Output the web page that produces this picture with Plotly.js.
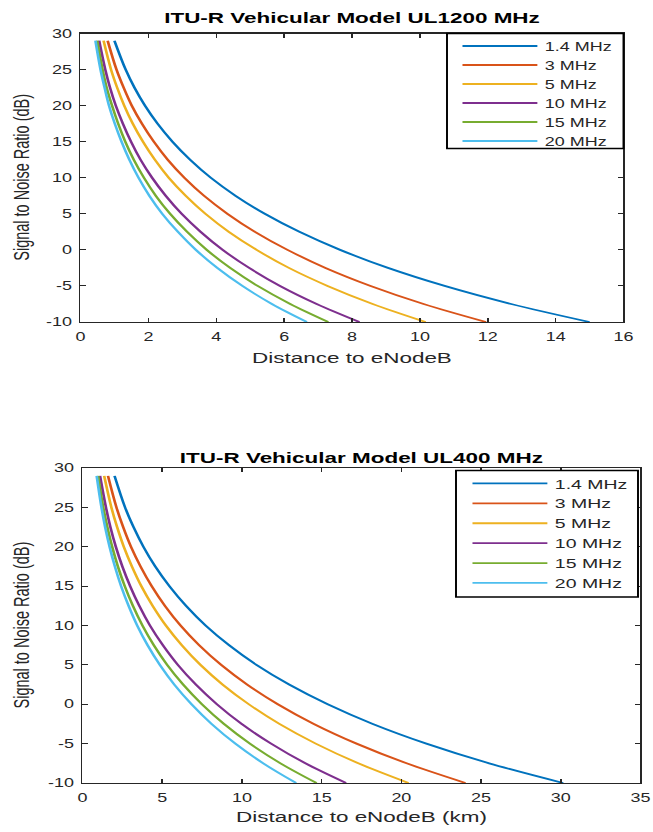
<!DOCTYPE html>
<html>
<head>
<meta charset="utf-8">
<script src="https://cdn.plot.ly/plotly-3.0.1.min.js"></script>
<style>
  html, body { margin: 0; padding: 0; background: #ffffff; overflow: hidden; }
  #chart { width: 436px; height: 832px; transform: scaleX(1.4977); transform-origin: 0 0; }
</style>
</head>
<body>
<div id="chart"></div>
<script>
// ---- data ----
const seriesNames = ["1.4 MHz", "3 MHz", "5 MHz", "10 MHz", "15 MHz", "20 MHz"];
const seriesColors = ["#0072BD", "#D95319", "#EDB120", "#7E2F8E", "#77AC30", "#4DBEEE"];

// SNR samples (dB), shared by all curves
const snr = [29, 25, 22.5, 20, 17.5, 15, 12.5, 10, 7.5, 5, 2.5, 0, -2.5, -5, -7.5, -10];

// ITU-R Vehicular Model UL 1200 MHz : distance to eNodeB
const d1200_1p4 = [1.00, 1.33, 1.59, 1.90, 2.27, 2.71, 3.23, 3.84, 4.57, 5.43, 6.45, 7.65, 9.06, 10.73, 12.69, 15.00];
const d1200_3   = [0.80, 1.06, 1.27, 1.51, 1.81, 2.16, 2.57, 3.06, 3.64, 4.33, 5.14, 6.10, 7.22, 8.55, 10.11, 11.95];
const d1200_5   = [0.68, 0.90, 1.08, 1.29, 1.54, 1.84, 2.19, 2.60, 3.10, 3.68, 4.37, 5.19, 6.14, 7.28, 8.61, 10.17];
const d1200_10  = [0.55, 0.73, 0.87, 1.04, 1.25, 1.49, 1.77, 2.11, 2.51, 2.98, 3.54, 4.19, 4.97, 5.88, 6.96, 8.22];
const d1200_15  = [0.49, 0.65, 0.77, 0.93, 1.11, 1.32, 1.57, 1.87, 2.22, 2.64, 3.14, 3.72, 4.41, 5.22, 6.18, 7.30];
const d1200_20  = [0.44, 0.59, 0.71, 0.84, 1.01, 1.21, 1.44, 1.71, 2.03, 2.41, 2.87, 3.40, 4.03, 4.77, 5.64, 6.67];

// ITU-R Vehicular Model UL 400 MHz : distance to eNodeB (km)
const d400_1p4 = [2.01, 2.67, 3.20, 3.82, 4.56, 5.45, 6.49, 7.72, 9.19, 10.91, 12.96, 15.38, 18.21, 21.57, 25.51, 30.15];
const d400_3   = [1.60, 2.13, 2.55, 3.04, 3.64, 4.34, 5.17, 6.15, 7.32, 8.70, 10.33, 12.25, 14.51, 17.19, 20.33, 24.02];
const d400_5   = [1.36, 1.81, 2.17, 2.59, 3.10, 3.69, 4.40, 5.23, 6.23, 7.40, 8.79, 10.43, 12.35, 14.63, 17.30, 20.45];
const d400_10  = [1.10, 1.47, 1.75, 2.09, 2.50, 2.99, 3.56, 4.23, 5.04, 5.98, 7.11, 8.43, 9.98, 11.83, 13.98, 16.53];
const d400_15  = [0.98, 1.30, 1.56, 1.86, 2.22, 2.65, 3.16, 3.76, 4.47, 5.31, 6.31, 7.49, 8.87, 10.50, 12.42, 14.68];
const d400_20  = [0.89, 1.19, 1.42, 1.70, 2.03, 2.42, 2.89, 3.43, 4.08, 4.85, 5.76, 6.84, 8.10, 9.59, 11.34, 13.40];

// tick labels
const yTickVals = [-10, -5, 0, 5, 10, 15, 20, 25, 30];
const yTickText = ["-10", "-5", "0", "5", "10", "15", "20", "25", "30"];
const x1TickVals = [0, 2, 4, 6, 8, 10, 12, 14, 16];
const x2TickVals = [0, 5, 10, 15, 20, 25, 30, 35];

const titleTop = "ITU-R Vehicular Model UL1200 MHz";
const titleBottom = "ITU-R Vehicular Model UL400 MHz";
const xTitleTop = "Distance to eNodeB";
const xTitleBottom = "Distance to eNodeB (km)";
const yTitle = "Signal to Noise Ratio (dB)";

// ---- traces ----
const topSeries = [d1200_1p4, d1200_3, d1200_5, d1200_10, d1200_15, d1200_20];
const bottomSeries = [d400_1p4, d400_3, d400_5, d400_10, d400_15, d400_20];
const FONT = "Arial, 'Liberation Sans', Helvetica, sans-serif";
const traces = [];
topSeries.forEach((xs, i) => traces.push({
  x: xs, y: snr, type: "scatter", mode: "lines", name: seriesNames[i],
  line: { color: seriesColors[i], width: 1.8, shape: "spline", smoothing: 1 },
  xaxis: "x", yaxis: "y", legend: "legend"
}));
bottomSeries.forEach((xs, i) => traces.push({
  x: xs, y: snr, type: "scatter", mode: "lines", name: seriesNames[i],
  line: { color: seriesColors[i], width: 1.8, shape: "spline", smoothing: 1 },
  xaxis: "x2", yaxis: "y2", legend: "legend2"
}));

const axisBase = {
  showline: true, linecolor: "#262626", linewidth: 1.3, mirror: "ticks",
  ticks: "inside", ticklen: 4, tickwidth: 1, tickcolor: "#262626",
  showgrid: false, zeroline: false,
  tickfont: { family: FONT, size: 12, color: "#262626" }
};
const W = 653, H = 832;
const px = v => v / W;          // reference pixel -> paper x
const py = v => 1 - v / H;      // reference pixel -> paper y
const yTitleFont = { family: FONT, size: 14.5, color: "#262626" };
const layout = {
  width: 436, height: 832,
  margin: { l: 0, r: 0, t: 0, b: 0 },
  paper_bgcolor: "#ffffff", plot_bgcolor: "#ffffff",
  font: { family: FONT, color: "#262626" },
  showlegend: true,
  title: { text: "<b>" + titleTop + "</b>", font: { family: FONT, size: 15, color: "#000000" },
           xref: "paper", yref: "container", x: px((80.5 + 623.5) / 2), xanchor: "center", y: py(18), yanchor: "middle" },
  xaxis: Object.assign({}, axisBase, {
    domain: [px(80.5), px(623.5)], range: [0, 16], tickvals: x1TickVals, anchor: "y", ticklabelstandoff: 3,
    title: { text: xTitleTop, font: { family: FONT, size: 15, color: "#262626" }, standoff: 9 }
  }),
  yaxis: Object.assign({}, axisBase, {
    domain: [py(322), py(33.5)], range: [-10, 30], tickvals: yTickVals, ticktext: yTickText, anchor: "x", ticklabelstandoff: 2
  }),
  xaxis2: Object.assign({}, axisBase, {
    domain: [px(82.5), px(640.5)], range: [0, 35], tickvals: x2TickVals, anchor: "y2", ticklabelstandoff: 3,
    title: { text: xTitleBottom, font: { family: FONT, size: 15, color: "#262626" }, standoff: 7 }
  }),
  yaxis2: Object.assign({}, axisBase, {
    domain: [py(783), py(468)], range: [-10, 30], tickvals: yTickVals, ticktext: yTickText, anchor: "x2", ticklabelstandoff: 2
  }),
  legend: {
    x: px(455), xanchor: "left", y: py(31.5), yanchor: "top",
    bgcolor: "rgba(0,0,0,0)", borderwidth: 0,
    font: { family: FONT, size: 12, color: "#262626" }, itemwidth: 50, tracegroupgap: 0
  },
  legend2: {
    x: px(465), xanchor: "left", y: py(468.5), yanchor: "top",
    bgcolor: "rgba(0,0,0,0)", borderwidth: 0,
    font: { family: FONT, size: 13, color: "#262626" }, itemwidth: 50, tracegroupgap: 0
  },
  shapes: [
    { type: "rect", xref: "paper", yref: "paper", x0: px(447), x1: px(623.5), y0: py(148.5), y1: py(33.5),
      line: { color: "#000000", width: 1.3 }, fillcolor: "#ffffff", layer: "above" },
    { type: "rect", xref: "paper", yref: "paper", x0: px(456), x1: px(638), y0: py(597), y1: py(470.5),
      line: { color: "#000000", width: 1.3 }, fillcolor: "#ffffff", layer: "above" }
  ],
  annotations: [
    { text: "<b>" + titleBottom + "</b>", xref: "paper", yref: "paper",
      x: px((82.5 + 640.5) / 2), y: py(457), xanchor: "center", yanchor: "middle",
      showarrow: false, font: { family: FONT, size: 15, color: "#000000" } },
    { text: yTitle, xref: "paper", yref: "paper", textangle: -90,
      x: px(21), y: py((33.5 + 322) / 2), xanchor: "center", yanchor: "middle",
      showarrow: false, font: yTitleFont },
    { text: yTitle, xref: "paper", yref: "paper", textangle: -90,
      x: px(21), y: py((468 + 783) / 2), xanchor: "center", yanchor: "middle",
      showarrow: false, font: yTitleFont }
  ]
};

Plotly.newPlot("chart", traces, layout, { staticPlot: true, displayModeBar: false }).then(gd => {
  // MATLAB-style long legend line samples
  gd.querySelectorAll(".legendlines path").forEach(p => {
    const d = p.getAttribute("d") || "";
    const m = d.match(/^M([-\d.]+),([-\d.]+)h([-\d.]+)/);
    if (m) p.setAttribute("d", "M" + m[1] + "," + m[2] + "h50");
  });
});
</script>
</body>
</html>
